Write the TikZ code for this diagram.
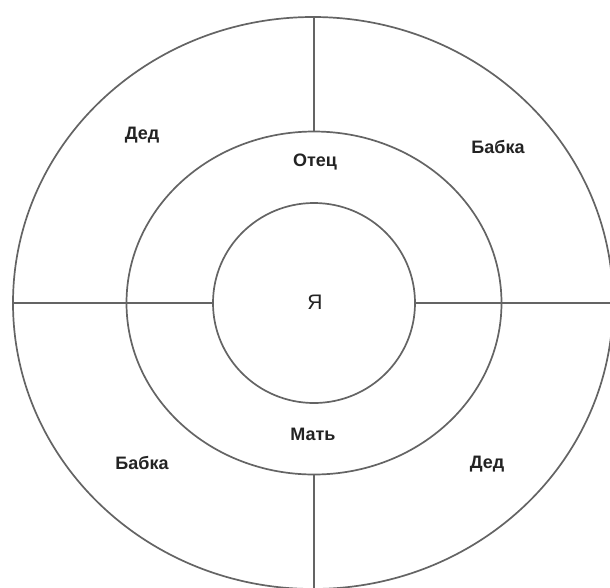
\documentclass[tikz,border=0pt]{standalone}
\usepackage{fontspec}
\setmainfont{Liberation Sans}
\usetikzlibrary{shapes.geometric}
\definecolor{ringgray}{RGB}{100,100,100}
\definecolor{txtgray}{RGB}{35,35,35}
\tikzset{
  ring/.style={ellipse, draw=ringgray, line width=1.7pt, inner sep=0pt, outer sep=0pt},
  divider/.style={draw=ringgray, line width=1.7pt},
  kin/.style={font=\bfseries\fontsize{18}{21}\selectfont, text=txtgray, inner sep=0pt},
  self/.style={font=\fontsize{21}{24}\selectfont, text=txtgray, inner sep=0pt}
}
\begin{document}
\begin{tikzpicture}[x=1pt,y=-1pt]
\useasboundingbox (0,0) rectangle (610,587);
\fill[white] (0,0) rectangle (610,587);
\clip (0,0) rectangle (610,587);
\node[ring, minimum width=600pt, minimum height=572pt] (outer) at (313,303) {};
\node[ring, minimum width=375pt, minimum height=343pt] (middle) at (314,303) {};
\node[ring, minimum width=202pt, minimum height=200pt] (inner) at (314,303) {};
\draw[divider] (outer.north -| middle.north) -- (middle.north);
\draw[divider] (middle.south) -- (outer.south -| middle.south);
\draw[divider] (outer.west) -- (inner.west);
\draw[divider] (inner.east) -- (outer.east);
\node[self] (ya) at (315,302) {Я};
\node[kin] (otec) at (315,162) {Отец};
\node[kin] (mat) at (313,434) {Мать};
\node[kin] (ded1) at (142,135) {Дед};
\node[kin] (babka1) at (498,147) {Бабка};
\node[kin] (babka2) at (142,463) {Бабка};
\node[kin] (ded2) at (487,464) {Дед};
\end{tikzpicture}
\end{document}
